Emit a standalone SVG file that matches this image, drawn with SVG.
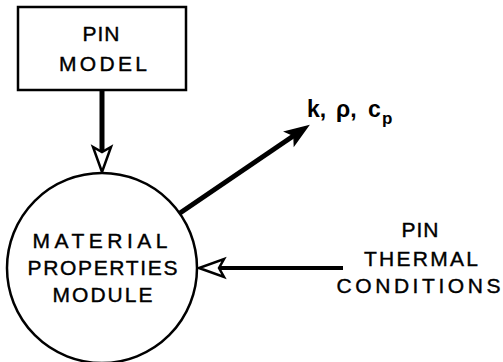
<svg xmlns="http://www.w3.org/2000/svg" width="503" height="362" viewBox="0 0 503 362">
<style>
.shape{fill:#fff;stroke:#000;stroke-width:2.5}
.lbl{font-family:"Liberation Sans",Arial,sans-serif;font-size:21px;fill:#000;stroke:#000;stroke-width:0.4;text-anchor:middle}
.sym{font-family:"Liberation Sans",Arial,sans-serif;font-size:23px;font-weight:bold;fill:#000}
.conn{stroke:#000;fill:none;stroke-linecap:butt}
</style>
<defs>
<marker id="openHead" markerUnits="userSpaceOnUse" orient="auto" markerWidth="30" markerHeight="24" refX="0" refY="0" overflow="visible">
<path d="M20,0 L-5,-9 L0,0 L-5,9 Z" fill="#fff" stroke="#000" stroke-width="2.5"/>
</marker>
<marker id="solidHead" markerUnits="userSpaceOnUse" orient="auto" markerWidth="30" markerHeight="24" refX="0" refY="0" overflow="visible">
<path d="M17,0 L-5,-8 L0,0 L-5,8 Z" fill="#000" stroke="#000" stroke-width="1.5"/>
</marker>
</defs>
<g id="connectors">
<line class="conn" x1="102" y1="90" x2="102" y2="152" stroke-width="5" marker-end="url(#openHead)"/>
<line class="conn" x1="343" y1="268" x2="219" y2="268" stroke-width="4" marker-end="url(#openHead)"/>
<line class="conn" x1="180" y1="213" x2="294" y2="135.5" stroke-width="5" marker-end="url(#solidHead)"/>
</g>
<g id="pin-model">
<rect class="shape" x="18" y="7" width="168" height="83"/>
<text class="lbl" x="101" y="41" textLength="37" lengthAdjust="spacing">PIN</text>
<text class="lbl" x="103" y="71" textLength="88" lengthAdjust="spacing">MODEL</text>
</g>
<g id="material-properties-module">
<circle class="shape" cx="102" cy="268" r="95"/>
<text class="lbl" x="100" y="248" textLength="135" lengthAdjust="spacing">MATERIAL</text>
<text class="lbl" x="102.5" y="275" textLength="150" lengthAdjust="spacing">PROPERTIES</text>
<text class="lbl" x="102.5" y="302" textLength="100" lengthAdjust="spacing">MODULE</text>
</g>
<g id="properties-output">
<text class="sym" y="117"><tspan x="307">k,</tspan><tspan x="336">ρ,</tspan><tspan x="368">c</tspan><tspan x="382" y="124" font-size="17">p</tspan></text>
</g>
<g id="pin-thermal-conditions">
<text class="lbl" x="420" y="237" textLength="37" lengthAdjust="spacing">PIN</text>
<text class="lbl" x="421" y="266" textLength="114" lengthAdjust="spacing">THERMAL</text>
<text class="lbl" x="418.5" y="293" textLength="164" lengthAdjust="spacing">CONDITIONS</text>
</g>
</svg>
